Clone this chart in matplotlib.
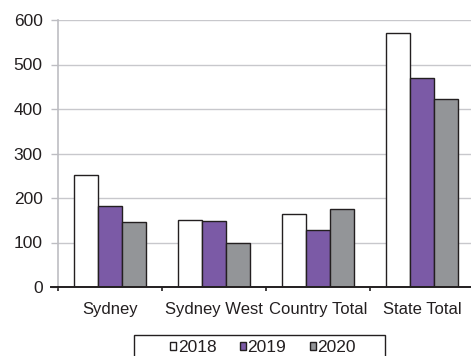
import matplotlib
matplotlib.use("Agg")
import matplotlib.pyplot as plt
from matplotlib.patches import Rectangle
import numpy as np

CATEGORIES = ["Sydney", "Sydney West", "Country Total", "State Total"]
YEARS = ["2018", "2019", "2020"]
V2018 = [251, 151, 163, 570]
V2019 = [181, 148, 128, 470]
V2020 = [146, 98, 175, 423]

COLORS = ["#ffffff", "#7b5aa6", "#939598"]
EDGE = "#231f20"

plt.rcParams["font.family"] = ["Liberation Sans", "DejaVu Sans"]

W, H = 471, 356
fig = plt.figure(figsize=(W / 100, H / 100), dpi=100)
ax = fig.add_axes([58 / W, 69 / H, 416 / W, 267 / H])

x = np.arange(len(CATEGORIES))
width = 0.23
for i, (vals, col, yr) in enumerate(zip([V2018, V2019, V2020], COLORS, YEARS)):
    ax.bar(x + (i - 1) * width, vals, width, color=col, edgecolor=EDGE,
           linewidth=1.0, label=yr, zorder=3)

ax.set_xlim(-0.5, len(CATEGORIES) - 0.5)
ax.set_ylim(0, 600)
ax.set_yticks(range(0, 601, 100))
ax.yaxis.grid(True, color="#c8c8cc", linewidth=1.0, zorder=0)
ax.tick_params(axis="y", colors="#bdbdc2", length=5, width=1, labelsize=12.5,
               labelcolor=EDGE, pad=6)

# category labels centred, ticks on the boundaries
ax.set_xticks(x)
ax.set_xticklabels(CATEGORIES, fontsize=12, color=EDGE)
ax.tick_params(axis="x", length=0, pad=11)
ax.set_xticks(np.arange(-0.5, len(CATEGORIES), 1), minor=True)
ax.tick_params(axis="x", which="minor", length=3, width=1.2, color=EDGE)

for s in ["top", "right"]:
    ax.spines[s].set_visible(False)
ax.spines["left"].set_color("#bdbdc2")
ax.spines["left"].set_linewidth(1.2)
ax.spines["bottom"].set_color(EDGE)
ax.spines["bottom"].set_linewidth(1.4)
ax.spines["bottom"].set_zorder(4)
# dark stub left of the zero line
ax.plot([-0.565, -0.5], [0, 0], color=EDGE, linewidth=1.4, clip_on=False, zorder=4)

# legend box (cut off by the bottom edge like the original)
fig.patches.append(Rectangle((134 / W, -10 / H), 251 / W, 31 / H, transform=fig.transFigure,
                             facecolor="none", edgecolor=EDGE, linewidth=1.0))
leg = fig.legend(loc="center", bbox_to_anchor=(263 / W, 8.5 / H), ncol=3,
                 fontsize=12.5, frameon=False, handlelength=0.35,
                 handleheight=0.35, handletextpad=0.1, columnspacing=1.35,
                 borderpad=0, borderaxespad=0)
for t in leg.get_texts():
    t.set_color(EDGE)

fig.savefig("out.png", dpi=100)
